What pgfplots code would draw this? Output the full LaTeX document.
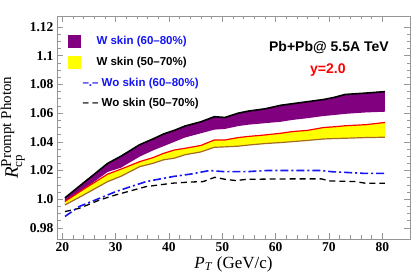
\documentclass[border=0pt]{standalone}
\usepackage{fontspec}
\setmainfont{Liberation Serif}
\newfontfamily\hel[Ligatures=TeX]{Liberation Sans}
\usepackage{pgfplots}
\pgfplotsset{compat=1.18}
\usepgfplotslibrary{fillbetween}
\usetikzlibrary{calc}
\definecolor{wpurple}{RGB}{128,0,128}
\definecolor{wyellow}{RGB}{255,255,0}
\definecolor{wbrown}{RGB}{165,105,40}
\definecolor{wblue}{RGB}{20,20,245}
\definecolor{wred}{RGB}{255,0,0}
\definecolor{framegray}{RGB}{150,150,150}

\pgfplotstableread{
x upper lower
20.5 1.001 0.997
24 1.0115 1.007
28.5 1.025 1.019
31 1.030 1.022
34.5 1.038 1.0297
37 1.042 1.034
39 1.0455 1.037
41 1.048 1.040
43 1.051 1.043
46 1.054 1.046
48.5 1.0575 1.0485
50.5 1.057 1.049
53 1.060 1.051
55 1.0615 1.052
58 1.063 1.053
61 1.0655 1.054
63 1.0665 1.0552
66 1.068 1.0565
69 1.0695 1.058
71 1.071 1.0587
73 1.073 1.0595
77 1.074 1.0605
80.5 1.075 1.061
}\wskinA

\pgfplotstableread{
x upper lower
20.5 0.9985 0.996
24 1.007 1.003
28.5 1.0175 1.0123
31 1.021 1.016
34.5 1.0262 1.0227
37 1.029 1.025
39 1.032 1.0275
41 1.0343 1.0286
43 1.0355 1.031
46 1.0375 1.033
48.5 1.0413 1.0362
50.5 1.0413 1.0365
53 1.043 1.037
55 1.0438 1.0378
58 1.0448 1.0388
61 1.046 1.0395
63 1.0471 1.0401
66 1.048 1.041
69 1.050 1.042
71 1.0505 1.0423
73 1.0512 1.0425
77 1.052 1.043
80.5 1.0535 1.0432
}\wskinB

\pgfplotstableread{
x y
20.5 0.988
23.2 0.995
27 1.0007
30 1.0053
35.7 1.0123
40.7 1.0158
44 1.0175
47.6 1.020
50.5 1.0192
54.5 1.0192
58.3 1.020
63 1.020
68.6 1.020
70.5 1.0192
76.8 1.018
80.5 1.018
}\woskinA

\pgfplotstableread{
x y
20.5 0.9914
23.2 0.9937
27 0.9995
30 1.003
35.7 1.0088
40.7 1.0112
44 1.012
46.4 1.0123
48.6 1.0153
50.5 1.0139
52.6 1.013
54.5 1.0139
62.7 1.0142
68.6 1.0142
70 1.0128
74.9 1.0123
76.8 1.0112
80.5 1.0112
}\woskinB

\begin{document}
\begin{tikzpicture}
\begin{axis}[
  scale only axis,
  width=353pt, height=223pt,
  xmin=19, xmax=85.2, ymin=0.9723, ymax=1.1277,
  xtick={20,30,40,50,60,70,80},
  xticklabels={20,30,40,50,60,70,80},
  ytick={0.98,1.0,1.02,1.04,1.06,1.08,1.1,1.12},
  yticklabels={0.98,1.0,1.02,1.04,1.06,1.08,1.1,1.12},
  minor x tick num=4, minor y tick num=3,
  major tick length=6pt, minor tick length=3.5pt,
  axis line style={framegray},
  every tick/.style={framegray, line width=0.6pt},
  tick label style={font=\fontsize{13.5}{13.5}\selectfont\bfseries, black},
  /pgf/number format/assume math mode=true,
  xlabel={\fontsize{17}{20}\selectfont $\mbox{\textit{P}}_{\mbox{\fontsize{12}{12}\selectfont\textit{T}}}$ (GeV/c)},
  ylabel={\fontsize{19}{20}\selectfont $\mbox{\textit{R}}_{\mbox{\fontsize{13}{13}\selectfont cp}}^{\mbox{\fontsize{15}{15}\selectfont Prompt Photon}}$},
  xlabel style={yshift=2pt},
  ylabel style={yshift=-2pt},
  legend style={draw=none, fill=none, inner sep=0pt,
    at={(axis description cs:0.031,0.915)}, anchor=north west,
    font=\hel\bfseries\fontsize{11.5}{13}\selectfont,
    row sep=8.5pt, column sep=0pt,
    nodes={inner sep=1pt}},
  legend cell align=left,
  clip=false,
]
\coordinate (sw) at (rel axis cs:0,0);
\coordinate (ne) at (rel axis cs:1,1);

% W skin 60-80 band
\addplot[name path=au, draw=none, forget plot] table[x=x,y=upper]{\wskinA};
\addplot[name path=al, draw=none, forget plot] table[x=x,y=lower]{\wskinA};
\addplot[wpurple, forget plot] fill between[of=au and al];
% W skin 50-70 band
\addplot[name path=bu, draw=none, forget plot] table[x=x,y=upper]{\wskinB};
\addplot[name path=bl, draw=none, forget plot] table[x=x,y=lower]{\wskinB};
\addplot[wyellow, forget plot] fill between[of=bu and bl];
% edge lines
\addplot[black, line width=1.6pt, forget plot] table[x=x,y=upper]{\wskinA};
\addplot[wred, line width=1.2pt, forget plot] table[x=x,y=upper]{\wskinB};
\addplot[wbrown, line width=1.2pt, forget plot] table[x=x,y=lower]{\wskinB};
% Wo skin
\addplot[wblue, line width=1.6pt, dash pattern=on 8pt off 3pt on 2pt off 3pt, forget plot] table[x=x,y=y]{\woskinA};
\addplot[black, line width=1.3pt, dash pattern=on 6pt off 4pt, forget plot] table[x=x,y=y]{\woskinB};

% legend
\addlegendimage{legend image code/.code={\fill[wpurple] (0pt,-6pt) rectangle (12pt,6pt);}}
\addlegendentry[text=wblue]{\hspace*{15pt}W skin (60–80\%)}
\addlegendimage{legend image code/.code={\fill[wyellow] (0pt,-6pt) rectangle (12pt,6pt);}}
\addlegendentry{\hspace*{15pt}W skin (50–70\%)}
\addlegendimage{legend image code/.code={}}
\addlegendentry[text=wblue]{\hspace*{1pt}–.– Wo skin (60–80\%)}
\addlegendimage{legend image code/.code={}}
\addlegendentry{\hspace*{1pt}– – Wo skin (50–70\%)}

\node[font=\hel\bfseries\fontsize{14}{14}\selectfont] at (axis cs:70.0,1.1054) {Pb+Pb@ 5.5A TeV};
\node[font=\hel\bfseries\fontsize{14}{14}\selectfont, text=wred] at (axis cs:69.8,1.0900) {y=2.0};
\end{axis}
\pgfresetboundingbox
\path[use as bounding box] ($(sw)+(-57pt,-41pt)$) rectangle ($(ne)+(10pt,16pt)$);
\end{tikzpicture}
\end{document}
